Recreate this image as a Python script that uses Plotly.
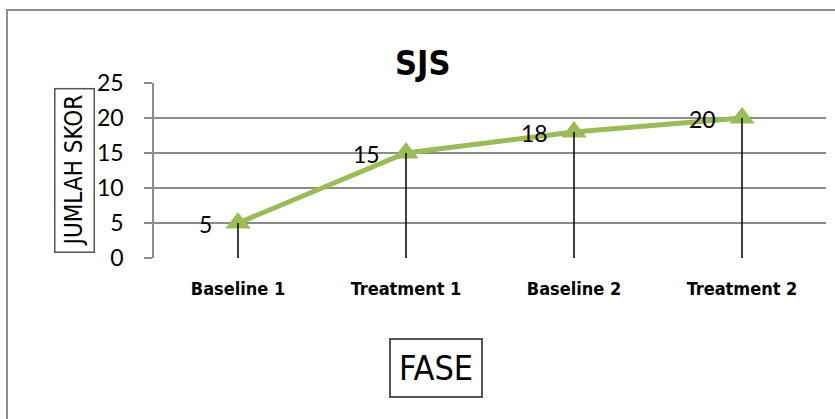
import plotly.graph_objects as go

# Phase scores
phases = ["Baseline 1", "Treatment 1", "Baseline 2", "Treatment 2"]
scores = [5, 15, 18, 20]
y_ticks = [0, 5, 10, 15, 20, 25]

GREEN = "#9BBB59"
GRID = "#8C8C8C"
COND = "DejaVu Sans Condensed, Liberation Sans Narrow, Roboto, sans-serif"
BODY = "Lato, Open Sans, sans-serif"

fig = go.Figure()

fig.add_trace(go.Scatter(
    x=phases, y=scores, mode="lines+markers",
    line=dict(color=GREEN, width=5),
    marker=dict(symbol="triangle-up", size=22, color=GREEN),
    cliponaxis=False, hoverinfo="skip", showlegend=False,
))

# Drop lines from each point down to zero
for p, s in zip(phases, scores):
    fig.add_shape(type="line", xref="x", yref="y", x0=p, x1=p, y0=0, y1=s,
                  line=dict(color="black", width=1.5))

# Value labels to the left of each point
for p, s in zip(phases, scores):
    fig.add_annotation(x=p, y=s, xref="x", yref="y", text=str(s),
                       showarrow=False, xanchor="right", yanchor="middle",
                       xshift=-24, yshift=-1,
                       font=dict(family=BODY, size=23, color="black"))

# Chart frame
fig.add_shape(type="rect", xref="paper", yref="paper",
              x0=-0.2188, x1=1.2, y0=-1.2, y1=1.417,
              line=dict(color="#8C8C8C", width=2), layer="below")

# Title
fig.add_annotation(xref="paper", yref="paper", x=0.399, y=1.114,
                   xanchor="center", yanchor="middle",
                   text="SJS", showarrow=False,
                   font=dict(family=COND, size=34, color="black", weight="bold"))

# Y-axis title in a box
fig.add_annotation(xref="paper", yref="paper", x=-0.1176, y=0.503,
                   xanchor="center", yanchor="middle",
                   text="JUMLAH SKOR", textangle=-90, showarrow=False,
                   font=dict(family=COND, size=24, color="black"),
                   bordercolor="#555555", borderwidth=1.5, borderpad=5)

# X-axis title in a box
fig.add_annotation(xref="paper", yref="paper", x=0.4196, y=-0.63,
                   xanchor="center", yanchor="middle",
                   text="FASE", showarrow=False,
                   font=dict(family=COND, size=34, color="black"),
                   bordercolor="#555555", borderwidth=2, borderpad=8)

fig.update_xaxes(
    type="category", range=[-0.5, 3.5], showgrid=False, zeroline=False,
    showline=False, ticks="", ticklabelstandoff=18,
    tickfont=dict(family=COND, size=18, color="black", weight="bold"),
)
fig.update_yaxes(
    range=[0, 25], tickvals=y_ticks, showgrid=True, gridcolor=GRID, gridwidth=1.5,
    zeroline=False, showline=True, linecolor=GRID, linewidth=1.5,
    ticks="outside", ticklen=8, tickcolor=GRID, tickwidth=1.5,
    ticklabelstandoff=16,
    tickfont=dict(family=BODY, size=23, color="black"),
)

fig.update_layout(
    width=835, height=419,
    margin=dict(l=154, r=9, t=83, b=161),
    paper_bgcolor="white", plot_bgcolor="white",
)

fig.write_html("out.html")
